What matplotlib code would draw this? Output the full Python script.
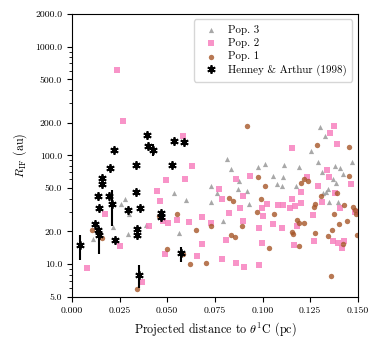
import numpy as np
import matplotlib
matplotlib.use("Agg")
import matplotlib.pyplot as plt
from matplotlib.ticker import FixedLocator, FormatStrFormatter, NullFormatter

plt.rcParams['font.family'] = 'cmr10'
plt.rcParams['mathtext.fontset'] = 'cm'
plt.rcParams['axes.formatter.use_mathtext'] = True

# %% data (x in pc, y in au)

pop3_x = [0.0811, 0.0834, 0.0974, 0.1012, 0.1112, 0.1189, 0.1292, 0.1379, 0.1405, 0.1467,
          0.1300, 0.1329, 0.1253, 0.1313, 0.1423, 0.1053, 0.1109, 0.1370, 0.1383, 0.0729,
          0.0762, 0.0877, 0.1077, 0.1100, 0.1173, 0.0869, 0.0916, 0.1345, 0.1331, 0.1315,
          0.0732, 0.0930, 0.1349, 0.1397, 0.0535, 0.0598, 0.0794, 0.0561, 0.0281, 0.0257,
          0.0301, 0.0217, 0.0295, 0.0388, 0.0112]
pop3_y = [92, 75, 78, 83, 81, 78, 87, 79, 76, 87,
          183, 150, 109, 71, 67, 64, 63, 60, 56, 52,
          45, 58, 54, 52, 52, 49, 47, 49, 46, 45,
          37, 36, 37, 37, 45, 39, 25, 19.5, 40, 36,
          29, 22, 19, 23, 17]

pop2_x = [0.0238, 0.0269, 0.0584, 0.0631, 0.1376, 0.1353, 0.1154, 0.1388, 0.1336, 0.1348,
          0.0933, 0.1234, 0.0860, 0.0493, 0.0593, 0.1292, 0.1463, 0.0773, 0.1201, 0.1379,
          0.0898, 0.0449, 0.0461, 0.0785, 0.1152, 0.1201, 0.1313, 0.1024, 0.1082, 0.1105,
          0.0995, 0.1143, 0.1170, 0.0884, 0.1405, 0.1484, 0.0823, 0.1003, 0.1265, 0.0680,
          0.0895, 0.1053, 0.0729, 0.0982, 0.1100, 0.1182, 0.0808, 0.1370, 0.1427, 0.1271,
          0.1397, 0.0995, 0.1166, 0.1414, 0.0680, 0.0785, 0.0860, 0.0904, 0.0982, 0.0173,
          0.0406, 0.0479, 0.0505, 0.0552, 0.0615, 0.0255, 0.0082, 0.0370, 0.0491, 0.0657]
pop2_y = [614, 209, 150, 80, 187, 162, 117, 127, 73, 63.5,
          64, 63.5, 60, 59, 61, 52.5, 54, 48.6, 46, 45,
          42, 47, 38, 39.6, 40, 36.6, 37.4, 35.5, 35, 35,
          33, 32.5, 34.3, 32.5, 33, 30, 29.6, 27.6, 28.2, 26.9,
          25, 23.3, 23.8, 21.6, 21.6, 22.2, 16.6, 16.2, 16.2, 16.3,
          15.5, 15.5, 14.9, 14.1, 15.2, 11.2, 10.3, 9.5, 9.9, 28.6,
          22.2, 25, 24, 25.4, 24.5, 14.7, 9.2, 6.9, 12.3, 11.9]

pop1_x = [0.0916, 0.1287, 0.1453, 0.1454, 0.0977, 0.1218, 0.1236, 0.1201, 0.1015, 0.1388,
          0.1306, 0.0823, 0.0843, 0.0990, 0.1275, 0.1427, 0.1271, 0.1475, 0.1484, 0.0969,
          0.1376, 0.1060, 0.1490, 0.1178, 0.1192, 0.1218, 0.1400, 0.1444, 0.0729, 0.0890,
          0.1362, 0.1152, 0.1157, 0.1275, 0.1341, 0.0832, 0.0856, 0.1420, 0.1190, 0.1035,
          0.0701, 0.1357, 0.1494, 0.0456, 0.0554, 0.0650, 0.0106, 0.0159, 0.0344, 0.0500,
          0.0584, 0.0619]
pop1_y = [185, 124, 120, 65, 63, 60, 58.6, 56, 52.5, 44.7,
          42.4, 40.2, 38.3, 40, 35.7, 34.6, 33.2, 33.2, 31.4, 30,
          28.8, 28.6, 28.6, 25.5, 24.1, 23.8, 23.3, 25, 22.2, 22.4,
          20.7, 19.9, 18.8, 19.5, 18.3, 18.5, 17.9, 15.4, 14.7, 14.1,
          10.2, 7.8, 18.5, 27.6, 28.7, 20.6, 20.7, 17.4, 5.9, 13.7,
          12.4, 10.1]

# Henney & Arthur (1998): value, lower and upper error (au)
ha_x = [0.0042, 0.0124, 0.0138, 0.0143, 0.0143, 0.0135, 0.0159, 0.0159, 0.0198, 0.0196,
        0.0211, 0.0220, 0.0225, 0.0297, 0.0336, 0.0339, 0.0344, 0.0344, 0.0351, 0.0357,
        0.0395, 0.0399, 0.0425, 0.0470, 0.0467, 0.0523, 0.0570, 0.0536, 0.0589]
ha_y = [15.0, 23.4, 20.5, 18.4, 33, 42, 62, 55, 76, 42,
        35.6, 112, 16.7, 31.4, 81, 46, 21, 18.5, 8.0, 33,
        155, 121, 113, 29.7, 27.3, 81, 12.6, 136, 133]
ha_lo = [4.2, 0, 0, 6.0, 0, 0, 0, 0, 0, 0,
         13.2, 0, 0, 0, 0, 0, 0, 0, 2.0, 0,
         0, 0, 15, 0, 0, 0, 2.1, 0, 0]
ha_hi = [3.5, 0, 0, 3.6, 0, 0, 0, 0, 0, 0,
         12.4, 0, 0, 0, 0, 0, 0, 0, 1.8, 0,
         0, 0, 13, 0, 0, 0, 1.7, 0, 0]

# %% plot

fig = plt.figure(figsize=(3.82, 3.46), dpi=100)
ax = fig.add_axes([0.188, 0.142, 0.749, 0.818])

ax.scatter(pop3_x, pop3_y, marker='^', s=14, color='#999999', alpha=0.85,
           linewidths=0, label='Pop. 3', zorder=2)
ax.scatter(pop2_x, pop2_y, marker='s', s=13, color='#f781bf', alpha=0.85,
           linewidths=0, label='Pop. 2', zorder=2)
ax.scatter(pop1_x, pop1_y, marker='o', s=15, color='#a65628', alpha=0.8,
           linewidths=0, label='Pop. 1', zorder=2)
ax.errorbar(ha_x, ha_y, yerr=[ha_lo, ha_hi], fmt='none', ecolor='black',
            elinewidth=1.5, capsize=0, zorder=3)
ax.plot(ha_x, ha_y, linestyle='none', marker=(6, 2, 0), markersize=6,
        markeredgewidth=1.3, color='black', label='Henney & Arthur (1998)', zorder=4)

ax.set_yscale('log')
ax.set_xlim(0, 0.150)
ax.set_ylim(5, 2000)
ax.yaxis.set_major_locator(FixedLocator([5, 10, 20, 50, 100, 200, 500, 1000, 2000]))
ax.yaxis.set_major_formatter(FormatStrFormatter('%.1f'))
ax.yaxis.set_minor_formatter(NullFormatter())
ax.xaxis.set_major_locator(FixedLocator([0, 0.025, 0.05, 0.075, 0.1, 0.125, 0.15]))
ax.xaxis.set_major_formatter(FormatStrFormatter('%.3f'))
ax.tick_params(labelsize=7)

ax.set_xlabel(r'Projected distance to $\theta^1$C (pc)', fontsize=8.7)
ax.set_ylabel(r'$R_{\rm IF}$ (au)', fontsize=8.7)

ax.legend(loc='upper right', fontsize=7.9, handletextpad=0.6, borderpad=0.5,
          labelspacing=0.3, markerscale=1.0)

fig.savefig('out.png', dpi=100)
